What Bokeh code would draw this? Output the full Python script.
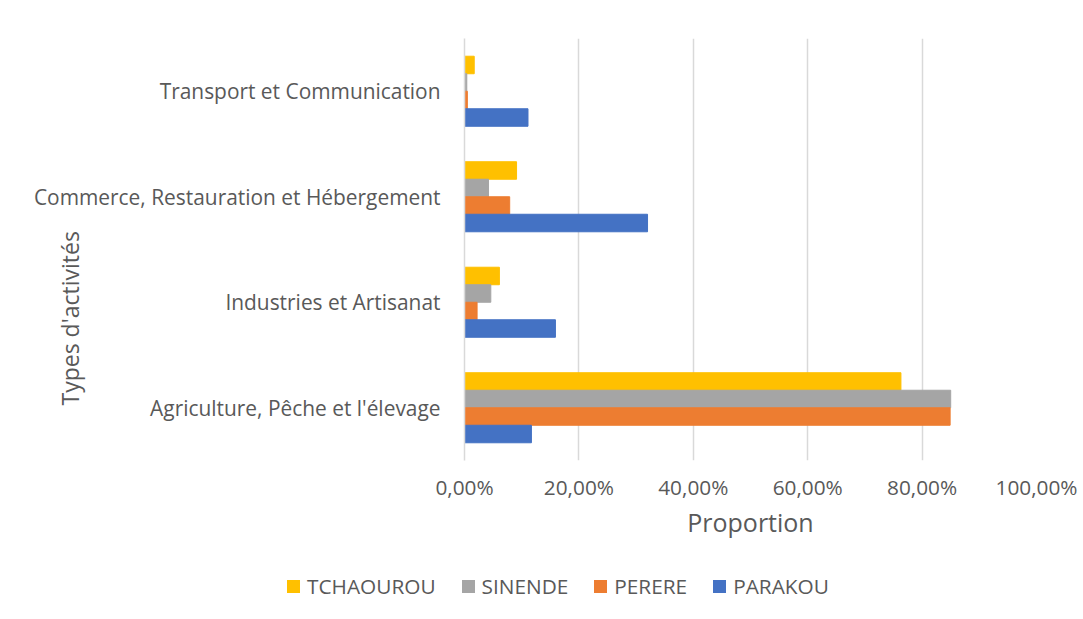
from bokeh.plotting import figure
from bokeh.layouts import column
from bokeh.models import FactorRange, ColumnDataSource, CustomJSTickFormatter, FixedTicker, Title, Div
from bokeh.transform import dodge
from bokeh.embed import file_html
from bokeh.resources import INLINE

categories = ["Agriculture, Pêche et l'élevage", "Industries et Artisanat",
              "Commerce, Restauration et Hébergement", "Transport et Communication"]
parakou = [0.117, 0.159, 0.320, 0.111]
perere = [0.849, 0.022, 0.079, 0.005]
sinende = [0.850, 0.046, 0.042, 0.004]
tchaourou = [0.763, 0.061, 0.091, 0.017]
x_ticks = [0, 0.2, 0.4, 0.6, 0.8, 1.0]

series = [("TCHAOUROU", tchaourou, "#FFC000", 0.249),
          ("SINENDE", sinende, "#A5A5A5", 0.083),
          ("PERERE", perere, "#ED7D31", -0.083),
          ("PARAKOU", parakou, "#4472C4", -0.249)]

src = ColumnDataSource(dict(cat=categories, PARAKOU=parakou, PERERE=perere,
                            SINENDE=sinende, TCHAOUROU=tchaourou))

FONT = "Open Sans"
TXT = "#595959"

p = figure(width=1083, height=560, output_backend="svg", toolbar_location=None,
           y_range=FactorRange(factors=categories, range_padding=0),
           x_range=(0, 1.0))
p.min_border_left = 464
p.min_border_right = 47
p.min_border_top = 38
p.min_border_bottom = 100
p.outline_line_color = None

for name, vals, color, off in series:
    p.hbar(y=dodge("cat", off, range=p.y_range), right=name, left=0, height=0.166,
           source=src, color=color, line_color=color)

p.xaxis.ticker = FixedTicker(ticks=x_ticks)
p.xaxis.formatter = CustomJSTickFormatter(code="return (tick*100).toFixed(2).replace('.', ',') + '%';")
p.xaxis.axis_line_color = None
p.xaxis.major_tick_line_color = None
p.xaxis.minor_tick_line_color = None
p.xaxis.major_label_text_font = FONT
p.xaxis.major_label_text_font_size = "20.8px"
p.xaxis.major_label_text_color = TXT
p.xaxis.major_label_standoff = 6
p.xaxis.axis_label = "Proportion"
p.xaxis.axis_label_text_font = FONT
p.xaxis.axis_label_text_font_size = "25px"
p.xaxis.axis_label_text_font_style = "normal"
p.xaxis.axis_label_text_color = TXT
p.xaxis.axis_label_standoff = 1

p.yaxis.axis_line_color = "#d9d9d9"
p.yaxis.axis_line_width = 1.5
p.yaxis.major_tick_line_color = None
p.yaxis.minor_tick_line_color = None
p.yaxis.major_label_text_font = FONT
p.yaxis.major_label_text_font_size = "20.9px"
p.yaxis.major_label_text_color = TXT
p.yaxis.major_label_standoff = 18

ytitle = Title(text="Types d'activités", align="left", offset=55, standoff=-110,
               text_font=FONT, text_font_size="23px", text_font_style="normal",
               text_color=TXT)
p.add_layout(ytitle, "left")

p.xgrid.grid_line_color = "#d9d9d9"
p.xgrid.grid_line_width = 1.5
p.ygrid.grid_line_color = None

# legend strip
entries = "".join(
    f'<span style="display:inline-flex;align-items:center;margin-right:26px;">'
    f'<span style="display:inline-block;width:13px;height:13px;background:{color};margin-right:7px;"></span>'
    f'<span>{name}</span></span>'
    for name, vals, color, off in series)
legend_div = Div(text=f'<div style="display:flex;align-items:center;height:44px;padding-left:282px;'
                      f'font-family:\'Open Sans\';font-size:20.8px;color:{TXT};white-space:nowrap;">'
                      f'{entries}</div>',
                 width=1083, height=59)

layout = column(p, legend_div, spacing=0)
open("out.html", "w").write(file_html(layout, INLINE))
